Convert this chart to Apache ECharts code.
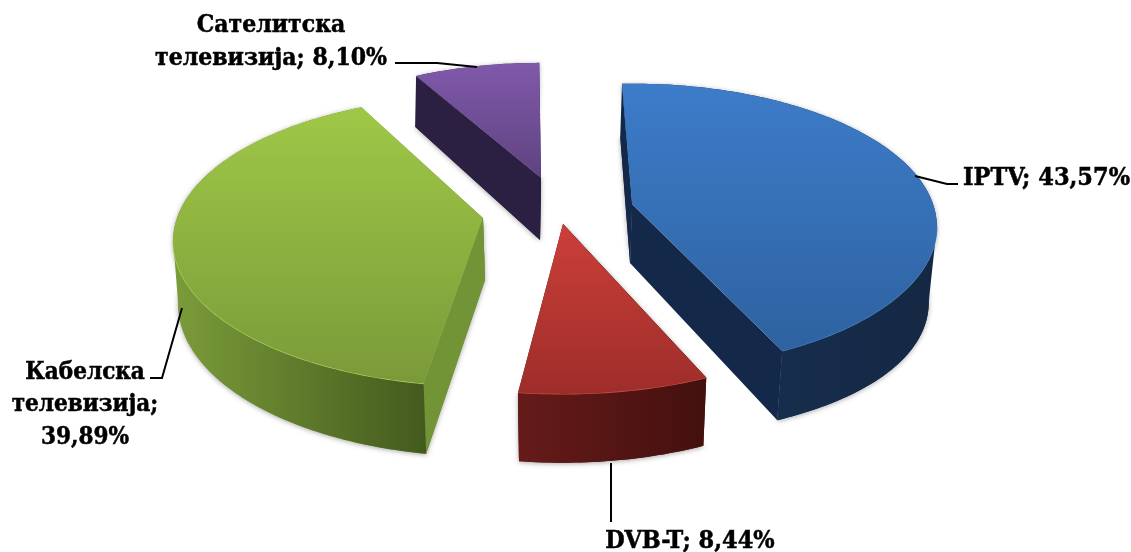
<!DOCTYPE html>
<html><head><meta charset="utf-8">
<style>html,body{margin:0;padding:0;background:#fff}#c{width:1131px;height:552px}</style>
<script src="https://cdn.jsdelivr.net/npm/echarts@6/dist/echarts.min.js"></script>
</head><body><div id="c"></div>
<script>
const categories = ['IPTV', 'DVB-T', 'Кабелска телевизија', 'Сателитска телевизија'];
const shares = [43.57, 8.44, 39.89, 8.10];

// Layout of the tilted, exploded pie (each slice has its own apex after explosion)
const startAngle = -2.2, K = 0.158, T = 0.463, DEG = Math.PI / 180;
const layout = [
  { cx: 632, cy: 204, R: 301, rot: 0, depth: 59, xs: 0.98, ys: 1.05, dx: -2, bulge: 16,
    top: ['#3d7cc9', '#2e62a0'], wall: ['#172d4d', '#142843'], face: '#14294a', rim: '#4f86c8',
    leader: [[915,176],[947,184],[958,184]], text: [963,178], align: 'left', wrap: 'none', size: 25 },
  { cx: 563, cy: 224, R: 309, rot: 2, depth: 62, xs: 0.98, ys: 1.04, dx: 0, bulge: 0,
    top: ['#cb3f3a', '#9e2d29'], wall: ['#661b19', '#43100e'], face: '#4a1210', rim: '#c9514d',
    leader: [[611,463],[611,522]], text: [690,541], align: 'center', wrap: 'none', size: 25 },
  { cx: 483, cy: 218, R: 306, rot: 4.4, depth: 62, xs: 0.99, ys: 1.05, dx: 2, bulge: 0,
    top: ['#9fc847', '#7a9a39'], wall: ['#7b9c3a', '#435a1d'], face: '#739337', rim: '#b4d667',
    leader: [[182,308],[162,378],[150,378]], text: [85,405], align: 'center', wrap: 'all', size: 24 },
  { cx: 541, cy: 178, R: 288, rot: 1.8, depth: 62, xs: 1, ys: 1.11, dx: -1, bulge: 0,
    top: ['#8059aa', '#5f4380'], wall: ['#2f2246', '#281c3c'], face: '#2b1f42', rim: '#8d6bb5',
    leader: [[395,63],[437,63],[477,67]], text: [271,42], align: 'center', wrap: 'first', size: 24.5 }
];

function project(s, deg) {
  const a = deg * DEG, z = 1 / (1 + K * Math.cos(a));
  return [s.cx + s.R * Math.sin(a) * z, s.cy - s.R * T * Math.cos(a) * z];
}
function lowerAt(s, deg) {
  const p = project(s, deg), b = Math.sin(deg * DEG);
  return [s.cx + s.dx + (p[0] - s.cx) * s.xs, s.cy + s.depth + (p[1] - s.cy) * s.ys + s.bulge * b * b];
}
function lowerApex(s) { return [s.cx + s.dx, s.cy + s.depth]; }
function angles(from, to) {
  const out = [], n = Math.max(2, Math.ceil(Math.abs(to - from)));
  for (let i = 0; i <= n; i++) out.push(from + (to - from) * i / n);
  return out;
}
function labelText(i, s) {
  const pct = shares[i].toFixed(2).replace('.', ',') + '%';
  const t = categories[i] + '; ' + pct;
  if (s.wrap === 'all') return t.replace(/ /g, '\n');
  if (s.wrap === 'first') return t.replace(' ', '\n');
  return t;
}
const vGrad = c => new echarts.graphic.LinearGradient(0, 0, 0, 1, [{offset:0,color:c[0]},{offset:1,color:c[1]}]);
const hGrad = c => new echarts.graphic.LinearGradient(0, 0, 1, 0, [{offset:0,color:c[0]},{offset:1,color:c[1]}]);
const shadow = {shadowBlur: 5, shadowColor: 'rgba(0,0,0,0.35)', shadowOffsetX: 0, shadowOffsetY: 1};

function renderItem(params, api) {
  const i = params.dataIndex, s = layout[i];
  let acc = 0;
  for (let j = 0; j < i; j++) acc += shares[j];
  const total = shares.reduce((a, b) => a + b, 0);
  const a0 = startAngle + acc / total * 360 + s.rot;
  const a1 = a0 + api.value(0) / total * 360;
  const all = angles(a0, a1);
  const topArc = all.map(a => project(s, a));
  const apex = [s.cx, s.cy], lapex = lowerApex(s);
  const children = [];
  children.push({type:'polygon', shape:{points:[apex, ...topArc, ...all.slice().reverse().map(a=>lowerAt(s,a)), lapex]},
    style:{fill:s.face, ...shadow}});
  [a0, a1].forEach(a => {
    children.push({type:'polygon', shape:{points:[apex, project(s,a), lowerAt(s,a), lapex]}, style:{fill:s.face}});
  });
  const f0 = Math.max(a0, 99), f1 = Math.min(a1, 261);
  if (f1 > f0) {
    const fr = angles(f0, f1), w = fr.map(a => project(s, a));
    children.push({type:'polygon', shape:{points:[...w, ...fr.slice().reverse().map(a=>lowerAt(s,a))]},
      style:{fill:hGrad(s.wall)}});
    children.push({type:'polyline', shape:{points:w}, style:{stroke:s.rim, lineWidth:1.2, fill:null}});
  }
  children.push({type:'polygon', shape:{points:[apex, ...topArc]}, style:{fill:vGrad(s.top)}});
  children.push({type:'polyline', shape:{points:s.leader}, style:{stroke:'#000', lineWidth:2, fill:null}});
  children.push({type:'text', x:s.text[0], y:s.text[1], style:{
    text:labelText(i, s), fill:'#000', stroke:'#000', lineWidth:0.5, align:s.align, verticalAlign:'middle',
    font:'bold ' + s.size + 'px "DejaVu Serif Condensed","DejaVu Serif",serif', lineHeight:32.5}});
  return {type:'group', children};
}

const chart = echarts.init(document.getElementById('c'), null, {renderer:'canvas'});
chart.setOption({
  animation:false,
  backgroundColor:'#fff',
  series:[{type:'custom', coordinateSystem:'none', renderItem, data:shares.map((v,i)=>({name:categories[i], value:[v]})), silent:true}]
});
</script></body></html>
